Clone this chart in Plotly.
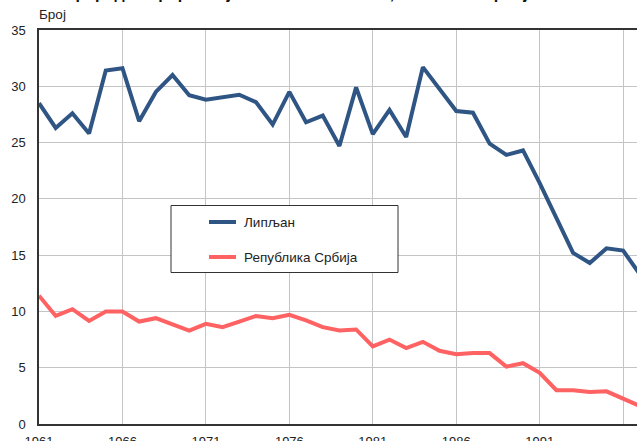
import plotly.graph_objects as go

# Природни прираштај на 1000 становника
years = list(range(1961, 1998))

lipljan = [28.5, 26.3, 27.6, 25.8, 31.4, 31.6, 26.9, 29.5, 31.0, 29.2,
           28.8, 29.0, 29.25, 28.6, 26.6, 29.5, 26.8, 27.4, 24.7, 29.9,
           25.75, 27.9, 25.5, 31.7, 29.7, 27.8, 27.65, 24.9, 23.9, 24.3,
           21.4, 18.3, 15.2, 14.3, 15.6, 15.4, 13.3]

srbija = [11.4, 9.6, 10.2, 9.15, 10.0, 10.0, 9.1, 9.4, 8.85, 8.3,
          8.9, 8.6, 9.1, 9.6, 9.4, 9.7, 9.2, 8.6, 8.3, 8.4,
          6.9, 7.5, 6.75, 7.3, 6.5, 6.2, 6.3, 6.3, 5.1, 5.4,
          4.55, 3.0, 3.0, 2.85, 2.9, 2.2, 1.6]

tick_years = list(range(1961, 2001, 5))
y_ticks = list(range(0, 40, 5))

series = [("Липљан", lipljan, "#2F5584"),
          ("Република Србија", srbija, "#FF6262")]

FONT = "Liberation Sans, Arial, sans-serif"
W, H = 637, 441
L, R, T, B = 39, 0, 30, 17
pw, ph = W - L - R, H - T - B


def px(x, y):
    # пиксели у paper координате
    return (x - L) / pw, 1 - (y - T) / ph


fig = go.Figure()

for name, vals, col in series:
    fig.add_trace(go.Scatter(
        x=years, y=vals, mode="lines", name=name,
        line=dict(color=col, width=4), showlegend=False,
    ))

fig.update_xaxes(
    range=[1961, 1996.83],
    tickvals=tick_years,
    ticktext=[str(y) for y in tick_years],
    showgrid=True, gridcolor="#C4C4C4", gridwidth=1,
    showline=True, linecolor="#333333", linewidth=2, mirror=True,
    ticks="outside", ticklen=4, tickcolor="rgba(0,0,0,0)",
    tickfont=dict(size=13, color="#222222", family=FONT),
    zeroline=False, automargin=False,
)
fig.update_yaxes(
    range=[0, 35],
    tickvals=y_ticks,
    showgrid=True, gridcolor="#C4C4C4", gridwidth=1,
    showline=True, linecolor="#333333", linewidth=1.5,
    ticks="outside", ticklen=9, tickcolor="rgba(0,0,0,0)",
    tickfont=dict(size=13, color="#222222", family=FONT),
    zeroline=False, automargin=False,
)

# наслов (одсечен на врху) и јединица мере
hx, hy = px(62, 3.5)
fig.add_annotation(
    text="<b>Природни прираштај на 1000 становника, Липљан и Србија</b>",
    xref="paper", yref="paper", x=hx, y=hy,
    xanchor="left", yanchor="bottom", showarrow=False,
    font=dict(size=16, color="#111111", family=FONT),
)
bx, by = px(37, 15)
fig.add_annotation(
    text="Број", xref="paper", yref="paper", x=bx, y=by,
    xanchor="left", yanchor="middle", showarrow=False,
    font=dict(size=13.5, color="#222222", family=FONT),
)

# легенда
x0, y0 = px(171, 205.5)
x1, y1 = px(398, 272.5)
fig.add_shape(type="rect", xref="paper", yref="paper",
              x0=x0, y0=y0, x1=x1, y1=y1,
              line=dict(color="#333333", width=1), fillcolor="white")
for i, (name, vals, col) in enumerate(series):
    yy = 222 + 35 * i
    ax0, ay = px(209, yy)
    ax1, _ = px(236, yy)
    fig.add_shape(type="line", xref="paper", yref="paper",
                  x0=ax0, y0=ay, x1=ax1, y1=ay,
                  line=dict(color=col, width=4))
    tx, _ = px(242, yy)
    fig.add_annotation(
        text=name, xref="paper", yref="paper", x=tx, y=ay,
        xanchor="left", yanchor="middle", showarrow=False,
        font=dict(size=13.5, color="#222222", family=FONT),
    )

fig.update_layout(
    width=W, height=H,
    margin=dict(l=L, r=R, t=T, b=B),
    paper_bgcolor="white", plot_bgcolor="white",
    font=dict(family=FONT, size=13, color="#222222"),
    showlegend=False,
)

# без подразумеване маргине странице
fig.write_html(
    "out.html",
    config={"displayModeBar": False},
    post_script="document.body.style.margin='0';"
                "document.body.style.overflow='hidden';",
)
